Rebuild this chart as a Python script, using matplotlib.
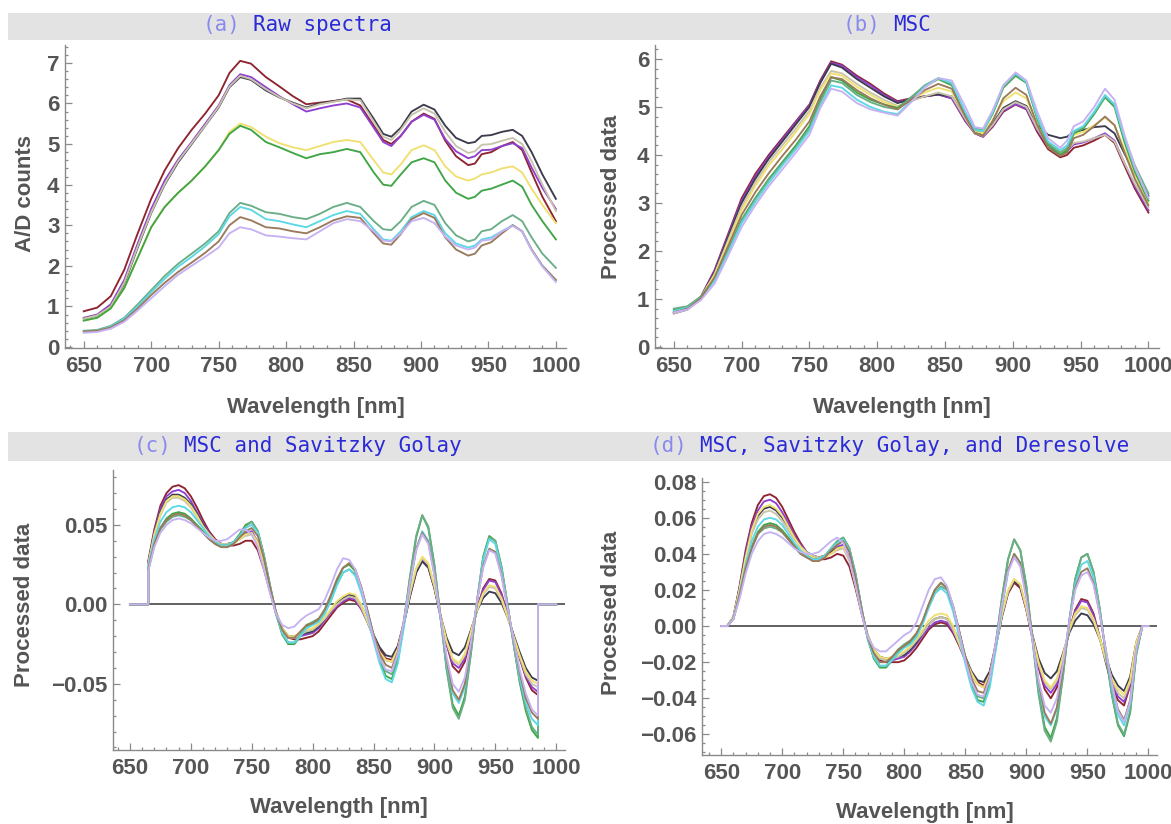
import matplotlib
matplotlib.use("Agg")
import matplotlib.pyplot as plt
from matplotlib.patches import Rectangle
from matplotlib.ticker import MultipleLocator, FuncFormatter

# wavelength grids
wl_ab = [650, 660, 670, 680, 690, 700, 710, 720, 730, 740, 750, 758, 766, 774, 785, 795,
         805, 815, 825, 835, 845, 855, 865, 872, 878, 885, 893, 902, 910, 918, 926, 935,
         940, 945, 952, 960, 968, 975, 982, 990, 1000]
wl_c = [650, 665] + list(range(665, 990, 5)) + [985, 1000]
wl_d = list(range(650, 1005, 5))

names = ["red", "purple", "slate", "beige", "yellow", "green", "sea", "cyan", "brown", "lavender"]
colors = ["#8e2430", "#9040d0", "#3c3c4e", "#c8c4ac", "#f0e070",
          "#3fa545", "#6aae86", "#5cd8e6", "#9a7a5c", "#c6b2f2"]

# (a) raw spectra
raw = {
    "red": [0.88, 0.97, 1.25, 1.90, 2.80, 3.65, 4.35, 4.90, 5.35, 5.75, 6.20, 6.75, 7.05, 6.98, 6.65, 6.42,
            6.18, 5.98, 6.02, 6.06, 6.10, 5.95, 5.45, 5.10, 5.00, 5.20, 5.55, 5.75, 5.62, 5.08, 4.70, 4.48,
            4.52, 4.75, 4.80, 4.95, 5.05, 4.85, 4.30, 3.70, 3.10],
    "purple": [0.72, 0.80, 1.05, 1.65, 2.55, 3.40, 4.10, 4.62, 5.05, 5.50, 5.95, 6.45, 6.72, 6.65, 6.40, 6.18,
               5.98, 5.80, 5.88, 5.95, 6.00, 5.90, 5.40, 5.05, 4.95, 5.20, 5.55, 5.72, 5.60, 5.12, 4.82, 4.65,
               4.70, 4.85, 4.86, 4.95, 5.02, 4.90, 4.42, 3.92, 3.40],
    "slate": [0.70, 0.78, 1.00, 1.55, 2.45, 3.30, 4.00, 4.55, 5.00, 5.45, 5.90, 6.40, 6.65, 6.58, 6.32, 6.15,
              6.02, 5.90, 6.00, 6.05, 6.12, 6.12, 5.62, 5.25, 5.18, 5.40, 5.80, 5.97, 5.85, 5.45, 5.15, 5.02,
              5.05, 5.20, 5.22, 5.30, 5.35, 5.20, 4.80, 4.25, 3.65],
    "beige": [0.70, 0.78, 1.00, 1.58, 2.48, 3.32, 4.02, 4.58, 5.02, 5.46, 5.92, 6.42, 6.68, 6.60, 6.35, 6.16,
              6.00, 5.88, 5.98, 6.04, 6.10, 6.08, 5.55, 5.18, 5.10, 5.35, 5.72, 5.88, 5.75, 5.30, 4.95, 4.78,
              4.82, 4.98, 5.00, 5.08, 5.15, 5.00, 4.58, 4.00, 3.35],
    "yellow": [0.65, 0.72, 0.95, 1.45, 2.20, 2.95, 3.45, 3.80, 4.10, 4.45, 4.85, 5.30, 5.50, 5.42, 5.18, 5.02,
               4.92, 4.85, 4.95, 5.05, 5.10, 5.05, 4.60, 4.30, 4.25, 4.50, 4.85, 4.97, 4.85, 4.45, 4.20, 4.10,
               4.15, 4.25, 4.30, 4.40, 4.45, 4.30, 3.90, 3.50, 3.05],
    "green": [0.65, 0.72, 0.95, 1.45, 2.20, 2.95, 3.45, 3.80, 4.10, 4.45, 4.85, 5.25, 5.45, 5.35, 5.05, 4.92,
              4.78, 4.65, 4.75, 4.80, 4.88, 4.80, 4.30, 4.00, 3.97, 4.25, 4.55, 4.65, 4.55, 4.10, 3.80, 3.65,
              3.70, 3.85, 3.90, 4.00, 4.10, 3.95, 3.50, 3.10, 2.65],
    "sea": [0.40, 0.42, 0.52, 0.72, 1.05, 1.40, 1.75, 2.05, 2.30, 2.55, 2.85, 3.30, 3.55, 3.48, 3.32, 3.28,
            3.20, 3.15, 3.28, 3.45, 3.55, 3.45, 3.10, 2.90, 2.88, 3.10, 3.45, 3.60, 3.50, 3.05, 2.75, 2.60,
            2.65, 2.85, 2.90, 3.10, 3.25, 3.10, 2.70, 2.30, 1.95],
    "cyan": [0.38, 0.40, 0.50, 0.70, 1.00, 1.35, 1.68, 1.98, 2.22, 2.48, 2.78, 3.22, 3.45, 3.38, 3.15, 3.10,
             3.02, 2.95, 3.10, 3.25, 3.35, 3.28, 2.90, 2.65, 2.62, 2.85, 3.20, 3.35, 3.25, 2.80, 2.55, 2.45,
             2.50, 2.65, 2.70, 2.85, 3.00, 2.85, 2.40, 2.00, 1.65],
    "brown": [0.38, 0.40, 0.48, 0.66, 0.95, 1.28, 1.58, 1.85, 2.08, 2.32, 2.60, 3.00, 3.20, 3.12, 2.95, 2.92,
              2.85, 2.80, 2.95, 3.12, 3.22, 3.18, 2.80, 2.55, 2.52, 2.78, 3.15, 3.30, 3.18, 2.70, 2.40, 2.25,
              2.30, 2.50, 2.58, 2.80, 3.00, 2.85, 2.40, 2.00, 1.65],
    "lavender": [0.35, 0.37, 0.45, 0.62, 0.90, 1.20, 1.50, 1.78, 2.00, 2.22, 2.45, 2.80, 2.95, 2.90, 2.75, 2.72,
                 2.68, 2.65, 2.85, 3.05, 3.15, 3.10, 2.85, 2.62, 2.60, 2.80, 3.10, 3.18, 3.05, 2.72, 2.50, 2.40,
                 2.45, 2.62, 2.65, 2.85, 2.98, 2.85, 2.38, 1.98, 1.60],
}

# (b) MSC
msc = {
    "red": [0.72, 0.80, 1.05, 1.60, 2.35, 3.10, 3.60, 4.00, 4.35, 4.70, 5.05, 5.55, 5.95, 5.88, 5.65, 5.48,
            5.28, 5.12, 5.18, 5.22, 5.26, 5.18, 4.70, 4.45, 4.38, 4.58, 4.90, 5.05, 4.95, 4.48, 4.12, 3.95,
            4.00, 4.15, 4.20, 4.30, 4.42, 4.25, 3.80, 3.30, 2.80],
    "purple": [0.72, 0.80, 1.05, 1.58, 2.32, 3.05, 3.55, 3.96, 4.32, 4.68, 5.03, 5.52, 5.92, 5.86, 5.62, 5.45,
               5.25, 5.10, 5.16, 5.22, 5.26, 5.18, 4.72, 4.45, 4.38, 4.60, 4.92, 5.06, 4.96, 4.52, 4.18, 4.02,
               4.08, 4.22, 4.26, 4.35, 4.45, 4.30, 3.85, 3.35, 2.85],
    "slate": [0.70, 0.78, 1.03, 1.55, 2.28, 3.00, 3.50, 3.92, 4.28, 4.64, 5.00, 5.50, 5.90, 5.82, 5.58, 5.40,
              5.22, 5.08, 5.16, 5.22, 5.26, 5.22, 4.78, 4.48, 4.42, 4.65, 4.98, 5.12, 5.02, 4.62, 4.42, 4.35,
              4.38, 4.48, 4.52, 4.58, 4.60, 4.45, 4.05, 3.60, 3.15],
    "beige": [0.70, 0.78, 1.02, 1.52, 2.22, 2.92, 3.42, 3.85, 4.20, 4.55, 4.92, 5.40, 5.75, 5.70, 5.48, 5.30,
              5.15, 5.02, 5.12, 5.22, 5.30, 5.22, 4.75, 4.45, 4.40, 4.62, 4.95, 5.10, 5.00, 4.55, 4.20, 4.05,
              4.10, 4.25, 4.28, 4.35, 4.42, 4.28, 3.85, 3.40, 2.90],
    "yellow": [0.75, 0.82, 1.05, 1.50, 2.18, 2.85, 3.35, 3.78, 4.12, 4.48, 4.85, 5.35, 5.70, 5.65, 5.42, 5.25,
               5.10, 5.00, 5.15, 5.30, 5.40, 5.32, 4.82, 4.50, 4.45, 4.72, 5.12, 5.30, 5.18, 4.62, 4.22, 4.05,
               4.12, 4.42, 4.48, 4.62, 4.78, 4.62, 4.15, 3.60, 3.00],
    "green": [0.78, 0.84, 1.05, 1.42, 2.02, 2.65, 3.10, 3.50, 3.85, 4.20, 4.60, 5.15, 5.62, 5.55, 5.30, 5.15,
              5.05, 4.98, 5.20, 5.42, 5.58, 5.45, 4.85, 4.52, 4.50, 4.85, 5.40, 5.65, 5.50, 4.75, 4.22, 4.00,
              4.10, 4.45, 4.55, 4.85, 5.20, 5.00, 4.30, 3.65, 3.05],
    "sea": [0.80, 0.85, 1.05, 1.40, 2.00, 2.62, 3.08, 3.48, 3.82, 4.16, 4.55, 5.10, 5.55, 5.50, 5.25, 5.10,
            5.00, 4.95, 5.20, 5.45, 5.60, 5.48, 4.88, 4.55, 4.52, 4.88, 5.42, 5.68, 5.52, 4.78, 4.25, 4.05,
            4.15, 4.48, 4.58, 4.88, 5.22, 5.05, 4.40, 3.78, 3.20],
    "cyan": [0.75, 0.82, 1.02, 1.38, 1.96, 2.58, 3.02, 3.42, 3.78, 4.12, 4.50, 5.02, 5.45, 5.40, 5.15, 5.00,
             4.90, 4.85, 5.12, 5.42, 5.60, 5.50, 4.88, 4.52, 4.50, 4.88, 5.45, 5.70, 5.52, 4.80, 4.28, 4.10,
             4.20, 4.50, 4.60, 4.90, 5.25, 5.05, 4.38, 3.72, 3.10],
    "brown": [0.72, 0.80, 1.02, 1.45, 2.10, 2.75, 3.22, 3.62, 3.98, 4.32, 4.70, 5.22, 5.62, 5.58, 5.35, 5.18,
              5.05, 4.95, 5.15, 5.35, 5.48, 5.38, 4.80, 4.45, 4.40, 4.70, 5.18, 5.40, 5.25, 4.62, 4.15, 3.98,
              4.05, 4.35, 4.42, 4.60, 4.80, 4.62, 4.08, 3.50, 2.95],
    "lavender": [0.72, 0.78, 0.98, 1.32, 1.90, 2.50, 2.95, 3.35, 3.70, 4.05, 4.42, 4.98, 5.38, 5.32, 5.08, 4.95,
                 4.88, 4.82, 5.10, 5.40, 5.60, 5.55, 5.00, 4.58, 4.55, 4.92, 5.45, 5.72, 5.55, 4.90, 4.35, 4.15,
                 4.30, 4.60, 4.70, 5.00, 5.38, 5.15, 4.45, 3.75, 3.10],
}

# (c) MSC + Savitzky Golay, values 665..985 nm every 5 nm (zero outside)
sg = {
    "red": [0.027, 0.047, 0.062, 0.070, 0.074, 0.075, 0.073, 0.068, 0.061, 0.053,
            0.046, 0.041, 0.038, 0.037, 0.037, 0.038, 0.040, 0.040, 0.034, 0.022,
            0.008, -0.006, -0.016, -0.021, -0.022, -0.022, -0.021, -0.020, -0.017, -0.012,
            -0.007, -0.002, 0.001, 0.003, 0.002, -0.003, -0.011, -0.020, -0.028, -0.034,
            -0.035, -0.027, -0.012, 0.005, 0.020, 0.028, 0.024, 0.011, -0.007, -0.025,
            -0.039, -0.043, -0.036, -0.020, -0.003, 0.010, 0.016, 0.015, 0.007, -0.006,
            -0.020, -0.034, -0.046, -0.054, -0.057],
    "purple": [0.026, 0.045, 0.060, 0.068, 0.071, 0.072, 0.070, 0.065, 0.058, 0.051,
               0.045, 0.040, 0.038, 0.038, 0.039, 0.042, 0.045, 0.046, 0.039, 0.025,
               0.009, -0.006, -0.016, -0.021, -0.021, -0.020, -0.019, -0.018, -0.015, -0.010,
               -0.005, -0.001, 0.002, 0.004, 0.003, -0.003, -0.011, -0.021, -0.030, -0.035,
               -0.036, -0.028, -0.012, 0.006, 0.021, 0.028, 0.024, 0.010, -0.008, -0.025,
               -0.037, -0.040, -0.034, -0.019, -0.003, 0.009, 0.015, 0.014, 0.006, -0.006,
               -0.020, -0.033, -0.045, -0.052, -0.055],
    "slate": [0.025, 0.044, 0.058, 0.066, 0.069, 0.069, 0.067, 0.063, 0.057, 0.050,
              0.044, 0.040, 0.038, 0.038, 0.039, 0.041, 0.044, 0.045, 0.039, 0.025,
              0.009, -0.005, -0.015, -0.020, -0.020, -0.019, -0.018, -0.017, -0.014, -0.009,
              -0.004, 0.001, 0.004, 0.006, 0.005, -0.001, -0.009, -0.019, -0.027, -0.032,
              -0.033, -0.026, -0.011, 0.006, 0.020, 0.027, 0.023, 0.010, -0.007, -0.021,
              -0.030, -0.032, -0.027, -0.016, -0.004, 0.004, 0.008, 0.007, 0.001, -0.008,
              -0.019, -0.030, -0.040, -0.046, -0.048],
    "beige": [0.025, 0.043, 0.056, 0.064, 0.067, 0.067, 0.065, 0.061, 0.055, 0.049,
              0.044, 0.040, 0.038, 0.038, 0.039, 0.041, 0.043, 0.044, 0.038, 0.025,
              0.009, -0.006, -0.016, -0.021, -0.021, -0.019, -0.017, -0.016, -0.013, -0.009,
              -0.004, 0.000, 0.003, 0.005, 0.004, -0.002, -0.011, -0.021, -0.030, -0.035,
              -0.036, -0.028, -0.012, 0.007, 0.022, 0.029, 0.025, 0.011, -0.007, -0.024,
              -0.035, -0.038, -0.032, -0.018, -0.004, 0.006, 0.011, 0.010, 0.003, -0.008,
              -0.021, -0.033, -0.044, -0.050, -0.052],
    "yellow": [0.025, 0.044, 0.057, 0.065, 0.068, 0.068, 0.066, 0.062, 0.056, 0.049,
               0.044, 0.040, 0.037, 0.037, 0.038, 0.041, 0.044, 0.045, 0.039, 0.025,
               0.009, -0.005, -0.015, -0.020, -0.020, -0.018, -0.016, -0.015, -0.012, -0.008,
               -0.003, 0.002, 0.005, 0.007, 0.006, 0.000, -0.010, -0.020, -0.030, -0.035,
               -0.036, -0.028, -0.011, 0.008, 0.023, 0.030, 0.026, 0.012, -0.007, -0.023,
               -0.034, -0.037, -0.031, -0.017, -0.003, 0.007, 0.012, 0.011, 0.004, -0.007,
               -0.020, -0.032, -0.042, -0.048, -0.050],
    "green": [0.022, 0.038, 0.048, 0.054, 0.057, 0.058, 0.057, 0.054, 0.050, 0.046,
              0.042, 0.039, 0.037, 0.037, 0.039, 0.044, 0.050, 0.052, 0.046, 0.031,
              0.012, -0.006, -0.019, -0.025, -0.025, -0.020, -0.014, -0.012, -0.010, -0.005,
              0.004, 0.015, 0.023, 0.025, 0.021, 0.010, -0.004, -0.020, -0.035, -0.045,
              -0.047, -0.035, -0.011, 0.017, 0.042, 0.056, 0.048, 0.024, -0.008, -0.040,
              -0.063, -0.070, -0.058, -0.030, 0.002, 0.030, 0.043, 0.040, 0.024, 0.000,
              -0.025, -0.049, -0.067, -0.079, -0.084],
    "sea": [0.021, 0.037, 0.047, 0.052, 0.055, 0.056, 0.055, 0.053, 0.049, 0.045,
            0.041, 0.038, 0.036, 0.036, 0.038, 0.043, 0.049, 0.052, 0.046, 0.031,
            0.012, -0.006, -0.018, -0.024, -0.024, -0.019, -0.013, -0.011, -0.009, -0.005,
            0.003, 0.013, 0.020, 0.022, 0.019, 0.009, -0.004, -0.019, -0.033, -0.042,
            -0.044, -0.033, -0.010, 0.018, 0.043, 0.056, 0.049, 0.025, -0.008, -0.041,
            -0.065, -0.072, -0.060, -0.031, 0.002, 0.029, 0.042, 0.040, 0.024, 0.000,
            -0.025, -0.048, -0.065, -0.077, -0.082],
    "cyan": [0.024, 0.041, 0.052, 0.058, 0.061, 0.062, 0.061, 0.058, 0.053, 0.048,
             0.043, 0.039, 0.037, 0.037, 0.039, 0.043, 0.048, 0.050, 0.045, 0.030,
             0.011, -0.006, -0.018, -0.024, -0.024, -0.020, -0.015, -0.013, -0.011, -0.006,
             0.002, 0.012, 0.020, 0.022, 0.018, 0.007, -0.007, -0.023, -0.037, -0.047,
             -0.049, -0.037, -0.014, 0.012, 0.034, 0.046, 0.040, 0.019, -0.009, -0.037,
             -0.056, -0.062, -0.052, -0.027, 0.002, 0.028, 0.041, 0.038, 0.022, -0.001,
             -0.024, -0.046, -0.062, -0.072, -0.076],
    "brown": [0.022, 0.038, 0.048, 0.053, 0.056, 0.057, 0.056, 0.053, 0.049, 0.045,
              0.041, 0.038, 0.036, 0.036, 0.038, 0.042, 0.046, 0.048, 0.043, 0.029,
              0.011, -0.005, -0.016, -0.021, -0.021, -0.017, -0.013, -0.012, -0.009, -0.003,
              0.006, 0.016, 0.023, 0.026, 0.022, 0.011, -0.004, -0.019, -0.031, -0.038,
              -0.040, -0.030, -0.010, 0.014, 0.035, 0.045, 0.039, 0.019, -0.008, -0.035,
              -0.054, -0.060, -0.050, -0.026, 0.002, 0.024, 0.035, 0.033, 0.019, -0.002,
              -0.023, -0.043, -0.059, -0.068, -0.072],
    "lavender": [0.021, 0.036, 0.045, 0.050, 0.053, 0.054, 0.053, 0.051, 0.048, 0.045,
                 0.042, 0.040, 0.040, 0.041, 0.044, 0.047, 0.047, 0.044, 0.036, 0.022,
                 0.007, -0.006, -0.013, -0.015, -0.014, -0.010, -0.007, -0.005, -0.003, 0.003,
                 0.012, 0.022, 0.029, 0.028, 0.022, 0.010, -0.006, -0.021, -0.034, -0.041,
                 -0.042, -0.031, -0.010, 0.014, 0.034, 0.044, 0.038, 0.018, -0.008, -0.033,
                 -0.050, -0.055, -0.046, -0.024, 0.002, 0.023, 0.034, 0.032, 0.018, -0.002,
                 -0.022, -0.041, -0.056, -0.066, -0.070],
}

# (d) MSC + Savitzky Golay + Deresolve, 650..1000 nm every 5 nm
dr = {
    "red": [0, 0, 0.005, 0.022, 0.042, 0.057, 0.067, 0.072, 0.073, 0.071,
            0.066, 0.059, 0.052, 0.046, 0.041, 0.038, 0.037, 0.037, 0.038, 0.040,
            0.039, 0.033, 0.021, 0.007, -0.006, -0.015, -0.019, -0.020, -0.020, -0.020,
            -0.019, -0.016, -0.012, -0.007, -0.002, 0.001, 0.002, 0.001, -0.004, -0.011,
            -0.019, -0.026, -0.031, -0.033, -0.026, -0.011, 0.005, 0.018, 0.024, 0.021,
            0.009, -0.007, -0.023, -0.035, -0.040, -0.034, -0.019, -0.003, 0.009, 0.015,
            0.014, 0.007, -0.006, -0.020, -0.033, -0.041, -0.044, -0.033, -0.010, 0.000,
            0.000],
    "purple": [0, 0, 0.005, 0.021, 0.040, 0.055, 0.064, 0.069, 0.070, 0.068,
               0.063, 0.057, 0.050, 0.045, 0.041, 0.039, 0.038, 0.039, 0.041, 0.044,
               0.045, 0.038, 0.024, 0.008, -0.006, -0.014, -0.018, -0.019, -0.019, -0.018,
               -0.017, -0.014, -0.010, -0.005, -0.001, 0.002, 0.003, 0.002, -0.003, -0.010,
               -0.019, -0.027, -0.032, -0.034, -0.027, -0.011, 0.006, 0.019, 0.025, 0.022,
               0.009, -0.007, -0.022, -0.033, -0.037, -0.032, -0.018, -0.003, 0.008, 0.014,
               0.013, 0.006, -0.006, -0.019, -0.031, -0.039, -0.042, -0.032, -0.010, 0.000,
               0.000],
    "slate": [0, 0, 0.005, 0.020, 0.038, 0.052, 0.061, 0.065, 0.066, 0.064,
              0.060, 0.055, 0.049, 0.044, 0.041, 0.039, 0.038, 0.039, 0.041, 0.043,
              0.044, 0.037, 0.023, 0.008, -0.005, -0.013, -0.017, -0.018, -0.018, -0.017,
              -0.016, -0.013, -0.009, -0.004, 0.001, 0.004, 0.005, 0.004, -0.001, -0.008,
              -0.017, -0.025, -0.030, -0.031, -0.025, -0.010, 0.006, 0.019, 0.025, 0.022,
              0.010, -0.005, -0.018, -0.026, -0.029, -0.025, -0.015, -0.004, 0.003, 0.007,
              0.006, 0.001, -0.007, -0.017, -0.027, -0.033, -0.036, -0.028, -0.009, 0.000,
              0.000],
    "beige": [0, 0, 0.005, 0.020, 0.037, 0.051, 0.059, 0.063, 0.064, 0.062,
              0.058, 0.053, 0.048, 0.044, 0.041, 0.039, 0.038, 0.039, 0.040, 0.042,
              0.043, 0.036, 0.023, 0.008, -0.006, -0.014, -0.018, -0.019, -0.018, -0.017,
              -0.015, -0.012, -0.008, -0.004, 0.001, 0.004, 0.005, 0.004, -0.002, -0.010,
              -0.019, -0.027, -0.032, -0.034, -0.027, -0.011, 0.006, 0.019, 0.026, 0.023,
              0.010, -0.006, -0.021, -0.031, -0.035, -0.030, -0.017, -0.003, 0.006, 0.010,
              0.009, 0.003, -0.007, -0.019, -0.030, -0.037, -0.040, -0.031, -0.010, 0.000,
              0.000],
    "yellow": [0, 0, 0.005, 0.020, 0.038, 0.053, 0.062, 0.066, 0.067, 0.065,
               0.061, 0.055, 0.049, 0.044, 0.040, 0.038, 0.037, 0.038, 0.040, 0.043,
               0.044, 0.037, 0.023, 0.008, -0.005, -0.013, -0.017, -0.018, -0.017, -0.016,
               -0.014, -0.011, -0.007, -0.002, 0.003, 0.006, 0.007, 0.006, 0.000, -0.009,
               -0.018, -0.026, -0.032, -0.034, -0.027, -0.010, 0.007, 0.020, 0.026, 0.023,
               0.010, -0.006, -0.020, -0.030, -0.034, -0.029, -0.016, -0.002, 0.007, 0.011,
               0.010, 0.004, -0.006, -0.018, -0.029, -0.035, -0.038, -0.030, -0.009, 0.000,
               0.000],
    "green": [0, 0, 0.004, 0.017, 0.032, 0.044, 0.052, 0.056, 0.057, 0.056,
              0.053, 0.049, 0.045, 0.041, 0.039, 0.037, 0.037, 0.039, 0.043, 0.047,
              0.049, 0.043, 0.029, 0.010, -0.007, -0.018, -0.023, -0.023, -0.019, -0.014,
              -0.011, -0.009, -0.005, 0.002, 0.012, 0.020, 0.024, 0.021, 0.011, -0.003,
              -0.018, -0.032, -0.041, -0.042, -0.031, -0.010, 0.015, 0.037, 0.048, 0.042,
              0.022, -0.007, -0.036, -0.056, -0.062, -0.051, -0.027, 0.002, 0.026, 0.038,
              0.040, 0.030, 0.010, -0.015, -0.038, -0.055, -0.061, -0.048, -0.016, 0.000,
              0.000],
    "sea": [0, 0, 0.004, 0.016, 0.031, 0.043, 0.051, 0.054, 0.055, 0.054,
            0.052, 0.048, 0.044, 0.040, 0.038, 0.037, 0.037, 0.039, 0.043, 0.047,
            0.049, 0.043, 0.029, 0.010, -0.007, -0.017, -0.022, -0.022, -0.018, -0.013,
            -0.010, -0.008, -0.004, 0.002, 0.011, 0.018, 0.022, 0.020, 0.010, -0.003,
            -0.017, -0.030, -0.039, -0.040, -0.030, -0.009, 0.016, 0.037, 0.048, 0.042,
            0.022, -0.008, -0.038, -0.058, -0.064, -0.053, -0.028, 0.002, 0.026, 0.038,
            0.040, 0.030, 0.010, -0.015, -0.038, -0.054, -0.060, -0.047, -0.015, 0.000,
            0.000],
    "cyan": [0, 0, 0.004, 0.018, 0.034, 0.047, 0.055, 0.059, 0.060, 0.059,
             0.056, 0.051, 0.046, 0.042, 0.039, 0.037, 0.037, 0.039, 0.043, 0.046,
             0.048, 0.042, 0.028, 0.009, -0.007, -0.017, -0.022, -0.022, -0.019, -0.015,
             -0.012, -0.010, -0.006, 0.001, 0.010, 0.018, 0.021, 0.018, 0.008, -0.006,
             -0.021, -0.034, -0.042, -0.044, -0.034, -0.013, 0.010, 0.030, 0.040, 0.035,
             0.017, -0.008, -0.033, -0.050, -0.055, -0.046, -0.024, 0.002, 0.023, 0.034,
             0.036, 0.027, 0.008, -0.014, -0.034, -0.049, -0.055, -0.043, -0.014, 0.000,
             0.000],
    "brown": [0, 0, 0.004, 0.017, 0.032, 0.043, 0.051, 0.055, 0.056, 0.055,
              0.052, 0.048, 0.044, 0.040, 0.038, 0.036, 0.036, 0.038, 0.042, 0.045,
              0.047, 0.041, 0.027, 0.009, -0.006, -0.015, -0.020, -0.020, -0.017, -0.013,
              -0.011, -0.008, -0.004, 0.003, 0.012, 0.020, 0.024, 0.021, 0.011, -0.003,
              -0.017, -0.029, -0.036, -0.037, -0.028, -0.009, 0.012, 0.031, 0.040, 0.035,
              0.017, -0.007, -0.031, -0.048, -0.054, -0.045, -0.024, 0.002, 0.021, 0.030,
              0.032, 0.024, 0.007, -0.013, -0.032, -0.046, -0.052, -0.041, -0.013, 0.000,
              0.000],
    "lavender": [0, 0, 0.004, 0.015, 0.029, 0.040, 0.047, 0.051, 0.052, 0.051,
                 0.049, 0.046, 0.043, 0.041, 0.040, 0.040, 0.041, 0.044, 0.047, 0.049,
                 0.046, 0.037, 0.023, 0.007, -0.006, -0.012, -0.014, -0.014, -0.011, -0.008,
                 -0.005, -0.003, 0.002, 0.011, 0.020, 0.026, 0.027, 0.022, 0.011, -0.004,
                 -0.019, -0.031, -0.038, -0.039, -0.029, -0.009, 0.012, 0.030, 0.038, 0.033,
                 0.015, -0.008, -0.030, -0.044, -0.048, -0.040, -0.021, 0.002, 0.020, 0.028,
                 0.030, 0.023, 0.007, -0.013, -0.032, -0.047, -0.053, -0.042, -0.013, 0.000,
                 0.000],
}

W, H = 1171, 824
fig = plt.figure(figsize=(W / 100, H / 100), dpi=100)
GRAY = "#555555"
AXC = "#8a8a8a"
plt.rcParams["font.family"] = "Liberation Sans"


def px_axes(l, r, t, b):
    return fig.add_axes([l / W, 1 - b / H, (r - l) / W, (b - t) / H])


def fmt(spec):
    return FuncFormatter(lambda v, pos: (spec % v).replace("-", "\u2212"))


def style(ax, xlim, ylim, ymaj, ymin, yfmt):
    ax.set_xlim(*xlim)
    ax.set_ylim(*ylim)
    for s in ["top", "right"]:
        ax.spines[s].set_visible(False)
    for s in ["left", "bottom"]:
        ax.spines[s].set_color(AXC)
        ax.spines[s].set_linewidth(1.0)
    ax.xaxis.set_major_locator(MultipleLocator(50))
    ax.xaxis.set_minor_locator(MultipleLocator(10))
    ax.yaxis.set_major_locator(MultipleLocator(ymaj))
    ax.yaxis.set_minor_locator(MultipleLocator(ymin))
    ax.yaxis.set_major_formatter(fmt(yfmt))
    ax.tick_params(which="both", direction="in", color=AXC, width=0.9)
    ax.tick_params(which="major", length=5)
    ax.tick_params(which="minor", length=2.5)
    ax.tick_params(axis="x", which="major", pad=6)
    ax.tick_params(axis="y", which="major", pad=4)
    for lab in ax.get_xticklabels() + ax.get_yticklabels():
        lab.set_fontsize(16)
        lab.set_fontweight("bold")
        lab.set_color(GRAY)
    ax.patch.set_alpha(0)


def labels(ax, ylab, xl, yl):
    ax.set_xlabel("Wavelength [nm]", fontsize=16, fontweight="bold", color=GRAY, va="center")
    ax.xaxis.set_label_coords(*xl)
    ax.set_ylabel(ylab, fontsize=16, fontweight="bold", color=GRAY, va="center")
    ax.yaxis.set_label_coords(*yl)


# title bars
for top, bot in [(13, 40), (432, 461)]:
    fig.patches.append(Rectangle((8 / W, 1 - bot / H), (W - 8) / W, (bot - top) / H,
                                 transform=fig.transFigure, facecolor="#e3e3e3",
                                 edgecolor="none", zorder=0))

fs_title = 15
cw = 0.602 * fs_title / 72 * 100


def title(cx, cy, tag, rest):
    full = tag + " " + rest
    x0 = cx - len(full) * cw / 2
    fig.text(x0 / W, 1 - cy / H, tag, family="DejaVu Sans Mono", fontsize=fs_title,
             color="#8a8aee", ha="left", va="center")
    fig.text((x0 + (len(tag) + 1) * cw) / W, 1 - cy / H, rest, family="DejaVu Sans Mono",
             fontsize=fs_title, color="#2a2ad8", ha="left", va="center")


title(297, 25, "(a)", "Raw spectra")
title(887, 25, "(b)", "MSC")
title(297, 446, "(c)", "MSC and Savitzky Golay")
title(888, 446, "(d)", "MSC, Savitzky Golay, and Deresolve")

LW = 1.35

# (a)
ax = px_axes(65, 566, 45, 348)
for n, c in zip(names, colors):
    ax.plot(wl_ab, raw[n], color=c, lw=LW)
style(ax, (636.1, 1007.5), (-0.025, 7.44), 1, 0.2, "%d")
labels(ax, "A/D counts", (0.5, -0.198), (-0.078, 0.51))

# (b)
ax = px_axes(655, 1159, 45, 348)
for n, c in zip(names, colors):
    ax.plot(wl_ab, msc[n], color=c, lw=LW)
style(ax, (636.1, 1007.8), (-0.02, 6.29), 1, 0.2, "%d")
labels(ax, "Processed data", (0.49, -0.198), (-0.086, 0.5))

# (c)
ax = px_axes(113, 564.5, 470, 750)
xl = (636.1, 1006.8)
ax.axhline(0, xmin=(wl_c[0] - xl[0]) / (xl[1] - xl[0]), color="#555555", lw=1.3, zorder=1)
for n, c in zip(names, colors):
    ax.plot(wl_c, [0, 0] + sg[n] + [0, 0], color=c, lw=LW, zorder=2)
style(ax, xl, (-0.0916, 0.0845), 0.05, 0.01, "%.2f")
labels(ax, "Processed data", (0.5, -0.204), (-0.196, 0.518))

# (d)
ax = px_axes(702.4, 1157, 478, 755)
xl = (634.6, 1007)
ax.axhline(0, xmin=(wl_d[0] - xl[0]) / (xl[1] - xl[0]), color="#555555", lw=1.3, zorder=1)
for n, c in zip(names, colors):
    ax.plot(wl_d, dr[n], color=c, lw=LW, zorder=2)
style(ax, xl, (-0.0714, 0.082), 0.02, 0.005, "%.2f")
labels(ax, "Processed data", (0.49, -0.206), (-0.201, 0.513))

fig.savefig("out.png", dpi=100)
